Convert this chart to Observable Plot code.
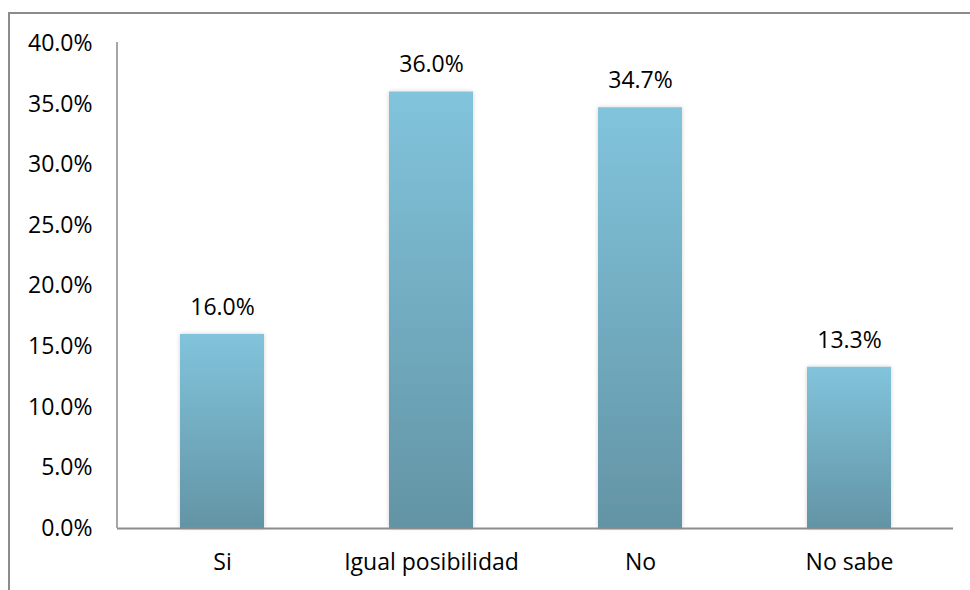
<!DOCTYPE html>
<html>
<head>
<meta charset="utf-8">
<script src="https://cdn.jsdelivr.net/npm/d3@7"></script>
<script src="https://cdn.jsdelivr.net/npm/@observablehq/plot@0.6"></script>
<style>
  html, body { margin: 0; padding: 0; background: #fff; overflow: hidden; }
  #wrap { position: relative; width: 970px; height: 590px; }
  #frame {
    position: absolute; left: 8px; top: 12px; width: 1000px; height: 620px;
    border: 2px solid #8c8c8c; box-sizing: border-box;
  }
  #chart { position: absolute; left: 0; top: 0; }
  #chart svg { overflow: visible; }
</style>
</head>
<body>
<div id="wrap">
  <div id="frame"></div>
  <div id="chart"></div>
</div>
<script>
// Survey answers and their shares (percent)
const categories = ["Si", "Igual posibilidad", "No", "No sabe"];
const shares = [16.0, 36.0, 34.7, 13.3];
const yTicks = [0, 5, 10, 15, 20, 25, 30, 35, 40];

const data = categories.map((c, i) => ({category: c, value: shares[i]}));
const font = "'Open Sans', sans-serif";
const fs = 23;

// Vertical gradient and soft shadow used for the bars
const gradientDefs = () => {
  const defs = d3.create("svg:defs");
  const g = defs.append("linearGradient")
    .attr("id", "barFill")
    .attr("x1", 0).attr("y1", 0).attr("x2", 0).attr("y2", 1);
  g.append("stop").attr("offset", "0%").attr("stop-color", "#81c4dc");
  g.append("stop").attr("offset", "100%").attr("stop-color", "#6394a5");
  const f = defs.append("filter").attr("id", "barShadow")
    .attr("x", "-10%").attr("y", "-10%").attr("width", "120%").attr("height", "120%");
  f.append("feDropShadow").attr("dx", 0).attr("dy", 0).attr("stdDeviation", 2)
    .attr("flood-color", "#000").attr("flood-opacity", 0.18);
  return defs.node();
};

// Vertical axis line spanning the y domain at the left edge of the plot area
const yAxisLine = (index, scales, values, dims) => {
  const [y0, y1] = scales.scales.y.domain;
  return d3.create("svg:line")
    .attr("x1", dims.marginLeft).attr("x2", dims.marginLeft)
    .attr("y1", scales.y(y0)).attr("y2", scales.y(y1) - 1)
    .attr("stroke", "#a6a6a6").attr("stroke-width", 2)
    .node();
};

const chart = Plot.plot({
  width: 970,
  height: 590,
  marginLeft: 117,
  marginRight: 17,
  marginTop: 43,
  marginBottom: 62,
  style: {fontFamily: font, fontSize: fs + "px", color: "#000", background: "transparent"},
  x: {domain: categories, paddingInner: 0.6, paddingOuter: 0.3, label: null},
  y: {domain: [0, 40], label: null},
  marks: [
    gradientDefs,
    Plot.barY(data, {x: "category", y: "value", fill: "url(#barFill)",
      render: (i, s, v, d, ctx, next) => {
        const g = next(i, s, v, d, ctx);
        g.setAttribute("filter", "url(#barShadow)");
        return g;
      }}),
    Plot.ruleY([0], {stroke: "#8c8c8c", strokeWidth: 2}),
    yAxisLine,
    Plot.axisY({ticks: yTicks, tickSize: 0, tickPadding: 25,
      tickFormat: d => d.toFixed(1) + "%", fill: "#000", fontSize: fs}),
    Plot.axisX({tickSize: 0, tickPadding: 25, fill: "#000", fontSize: fs}),
    Plot.text(data, {x: "category", y: "value", dy: -27,
      text: d => d.value.toFixed(1) + "%", fill: "#000", fontSize: fs})
  ]
});

document.getElementById("chart").appendChild(chart);
</script>
</body>
</html>
